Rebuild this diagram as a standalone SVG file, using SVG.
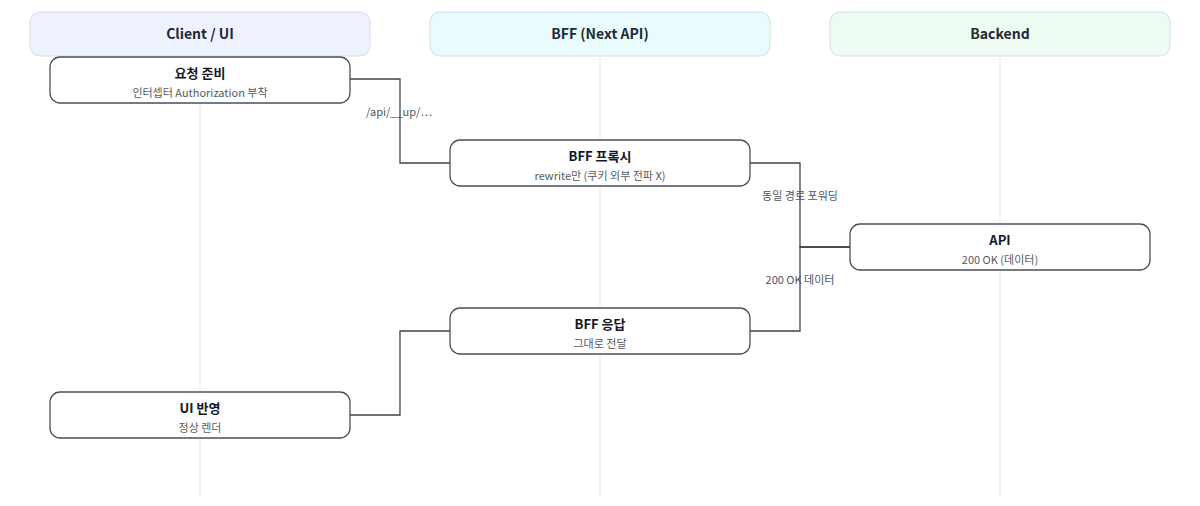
<svg xmlns="http://www.w3.org/2000/svg" width="1200" height="506" viewBox="0 0 1200 506">
<style>
text{font-family:"Noto Sans CJK KR","Noto Sans",sans-serif}
.lane{stroke:#d5dde8;stroke-width:1}
.lt{font-size:14px;font-weight:700;fill:#1f2937;text-anchor:middle}
.life{stroke:#e5e7eb;stroke-width:1}
.box{fill:#fff;stroke:#4b5058;stroke-width:1.3}
.t{font-size:13px;font-weight:700;fill:#111827;text-anchor:middle}
.s{font-size:11px;fill:#555b63;text-anchor:middle}
.c{fill:none;stroke:#3f444b;stroke-width:1.3}
.cl{font-size:11px;fill:#4b5563;text-anchor:middle}
</style>
<rect width="1200" height="506" fill="#fff"/>
<g id="lanes">
<rect class="lane" x="30" y="12" width="340" height="44" rx="10" fill="#eef2fd"/>
<text class="lt" x="200" y="39">Client / UI</text>
<rect class="lane" x="430" y="12" width="340" height="44" rx="10" fill="#e9fbfd"/>
<text class="lt" x="600" y="39">BFF (Next API)</text>
<rect class="lane" x="830" y="12" width="340" height="44" rx="10" fill="#eefbf2"/>
<text class="lt" x="1000" y="39">Backend</text>
<line class="life" x1="200" y1="56" x2="200" y2="496"/>
<line class="life" x1="600" y1="56" x2="600" y2="496"/>
<line class="life" x1="1000" y1="56" x2="1000" y2="496"/>
</g>
<g id="connectors">
<path class="c" d="M350 79H400V163H450"/>
<text class="cl" x="399" y="116">/api/__up/⋯</text>
<path class="c" d="M750 163H800V247H850"/>
<text class="cl" x="800" y="200">동일 경로 포워딩</text>
<path class="c" d="M850 247H800V331H750"/>
<text class="cl" x="800" y="284">200 OK 데이터</text>
<path class="c" d="M450 331H400V415H350"/>
</g>
<g id="n1">
<rect class="box" x="50" y="57" width="300" height="46" rx="10"/>
<text class="t" x="200" y="78">요청 준비</text>
<text class="s" x="200" y="97">인터셉터 Authorization 부착</text>
</g>
<g id="n2">
<rect class="box" x="450" y="140" width="300" height="46" rx="10"/>
<text class="t" x="600" y="161">BFF 프록시</text>
<text class="s" x="600" y="180">rewrite만 (쿠키 외부 전파 X)</text>
</g>
<g id="n3">
<rect class="box" x="850" y="224" width="300" height="46" rx="10"/>
<text class="t" x="1000" y="245">API</text>
<text class="s" x="1000" y="264">200 OK (데이터)</text>
</g>
<g id="n4">
<rect class="box" x="450" y="308" width="300" height="46" rx="10"/>
<text class="t" x="600" y="329">BFF 응답</text>
<text class="s" x="600" y="348">그대로 전달</text>
</g>
<g id="n5">
<rect class="box" x="50" y="392" width="300" height="46" rx="10"/>
<text class="t" x="200" y="413">UI 반영</text>
<text class="s" x="200" y="432">정상 렌더</text>
</g>
</svg>
